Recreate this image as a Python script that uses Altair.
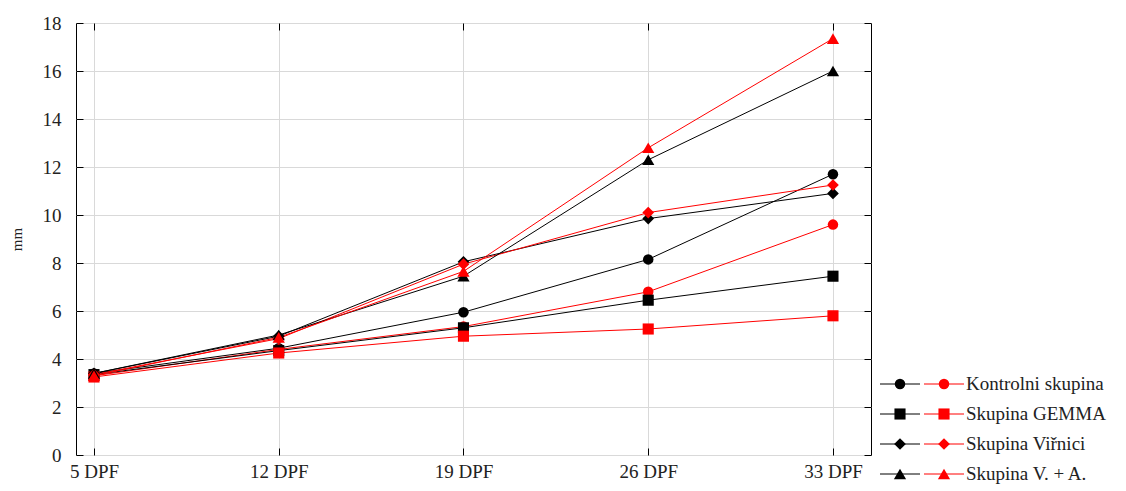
import altair as alt
import pandas as pd

days = ["5 DPF", "12 DPF", "19 DPF", "26 DPF", "33 DPF"]
groups = ["Kontrolni skupina", "Skupina GEMMA", "Skupina Viřnici", "Skupina V. + A."]
shapes = ["circle", "square", "diamond", "triangle-up"]
sizes = [110, 150, 110, 130]

kontrolni_black = [3.4, 4.45, 5.95, 8.15, 11.7]
kontrolni_red = [3.3, 4.4, 5.35, 6.8, 9.6]
gemma_black = [3.35, 4.35, 5.3, 6.45, 7.45]
gemma_red = [3.25, 4.25, 4.95, 5.25, 5.8]
virnici_black = [3.4, 4.95, 8.05, 9.85, 10.9]
virnici_red = [3.35, 4.85, 7.95, 10.1, 11.25]
va_black = [3.4, 5.0, 7.45, 12.3, 16.0]
va_red = [3.3, 4.9, 7.65, 12.8, 17.35]

series = [
    (groups[0], "black", kontrolni_black), (groups[0], "red", kontrolni_red),
    (groups[1], "black", gemma_black), (groups[1], "red", gemma_red),
    (groups[2], "black", virnici_black), (groups[2], "red", virnici_red),
    (groups[3], "black", va_black), (groups[3], "red", va_red),
]
rows = []
for g, c, vals in series:
    for d, v in zip(days, vals):
        rows.append({"group": g, "cond": c, "series": g + "|" + c, "day": d, "value": v})
df = pd.DataFrame(rows)

FONT = "Liberation Serif"
color_scale = alt.Scale(domain=["black", "red"], range=["#000000", "#ff0000"])
shape_scale = alt.Scale(domain=groups, range=shapes)
size_scale = alt.Scale(domain=groups, range=sizes)
x_scale = alt.Scale(type="point", padding=0.1516, align=0.321)
y_scale = alt.Scale(domain=[0, 18], nice=False)
yvals = list(range(0, 19, 2))

lines = alt.Chart(df).mark_line(strokeWidth=1).encode(
    x=alt.X("day:O", sort=days, scale=x_scale,
            axis=alt.Axis(title=None, labelAngle=0, offset=-7, domain=False, tickSize=7,
                          tickColor="black", labelPadding=7, grid=True, gridColor="#d9d9d9",
                          labelFont=FONT, labelFontSize=19, labelColor="#222222")),
    y=alt.Y("value:Q", scale=y_scale,
            axis=alt.Axis(title="mm", values=yvals, offset=-7, domain=False, tickSize=7,
                          tickColor="black", labelPadding=15, grid=True, gridColor="#d9d9d9",
                          labelFont=FONT, labelFontSize=19, labelColor="#222222",
                          titleFont=FONT, titleFontSize=15, titleFontWeight="normal",
                          titleColor="#222222", titlePadding=18)),
    color=alt.Color("cond:N", scale=color_scale, legend=None),
    detail="series:N",
)

points = alt.Chart(df).mark_point(filled=True, opacity=1).encode(
    x=alt.X("day:O", sort=days, scale=x_scale,
            axis=alt.Axis(title=None, orient="top", labels=False, offset=-7, domain=False,
                          tickSize=7, tickColor="black", grid=False)),
    y=alt.Y("value:Q", scale=y_scale,
            axis=alt.Axis(title=None, orient="right", values=yvals, labels=False, offset=-7,
                          domain=False, tickSize=7, tickColor="black", grid=False)),
    color=alt.Color("cond:N", scale=color_scale, legend=None),
    shape=alt.Shape("group:N", scale=shape_scale, legend=None),
    size=alt.Size("group:N", scale=size_scale, legend=None),
    detail="series:N",
)

main = alt.layer(lines, points).resolve_axis(x="independent", y="independent").properties(
    width=795, height=432, view=alt.ViewBackground(stroke="black", strokeWidth=1)
)

leg_df = pd.DataFrame({"group": groups})
leg_y = alt.Y("group:N", sort=groups,
              scale=alt.Scale(type="point", range=[361, 451], padding=0), axis=None)
leg_base = alt.Chart(leg_df)
leg_black_rule = leg_base.mark_rule(color="black", strokeWidth=1).encode(
    x=alt.value(8), x2=alt.value(48), y=leg_y)
leg_red_rule = leg_base.mark_rule(color="#ff0000", strokeWidth=1).encode(
    x=alt.value(52), x2=alt.value(92), y=leg_y)
leg_black_pt = leg_base.mark_point(filled=True, opacity=1, color="black").encode(
    x=alt.value(28), y=leg_y,
    shape=alt.Shape("group:N", scale=shape_scale, legend=None),
    size=alt.Size("group:N", scale=size_scale, legend=None))
leg_red_pt = leg_base.mark_point(filled=True, opacity=1, color="#ff0000").encode(
    x=alt.value(72), y=leg_y,
    shape=alt.Shape("group:N", scale=shape_scale, legend=None),
    size=alt.Size("group:N", scale=size_scale, legend=None))
leg_text = leg_base.mark_text(align="left", baseline="middle", font=FONT, fontSize=19,
                              color="#222222").encode(
    x=alt.value(94), y=leg_y, text="group:N")

legend = alt.layer(leg_black_rule, leg_red_rule, leg_black_pt, leg_red_pt, leg_text).properties(
    width=235, height=455, view=alt.ViewBackground(stroke=None)
)

chart = alt.hconcat(main, legend, spacing=0).properties(
    padding={"left": 0, "top": 5, "right": 0, "bottom": 0}
).configure(background="white")

chart.save("out.html", embed_options={"renderer": "svg", "actions": False})
